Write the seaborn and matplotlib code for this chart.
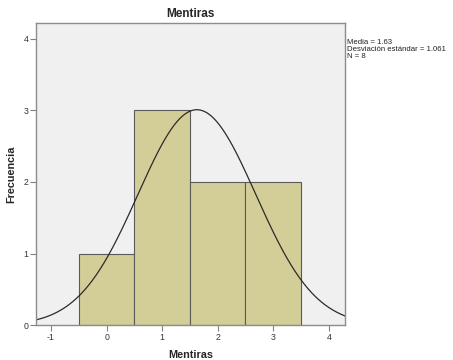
import numpy as np
from decimal import Decimal, ROUND_HALF_UP
import matplotlib
matplotlib.use("Agg")
import matplotlib.pyplot as plt
import seaborn as sns

# Observed values of the variable
mentiras = [0, 1, 1, 1, 2, 2, 3, 3]
bin_edges = [-0.5, 0.5, 1.5, 2.5, 3.5]
x_ticks = [-1, 0, 1, 2, 3, 4]
y_ticks = [0, 1, 2, 3, 4]

sns.set_theme(style="white")
plt.rcParams["font.family"] = ["Liberation Sans", "DejaVu Sans"]

fig = plt.figure(figsize=(4.53, 3.60), dpi=100)
ax = fig.add_axes([0.0795, 0.097, 0.682, 0.839])
ax.set_facecolor("#f0f0f0")

sns.histplot(x=mentiras, bins=bin_edges, stat="count", color="#d3ce98",
             edgecolor="#5a5a5a", linewidth=0.8, alpha=1.0, ax=ax)

# Normal curve fitted to the data, scaled to counts (bin width 1)
n = len(mentiras)
mean = float(np.mean(mentiras))
sd = float(np.std(mentiras, ddof=1))
xs = np.linspace(-1.27, 4.29, 300)
ys = n * np.exp(-0.5 * ((xs - mean) / sd) ** 2) / (sd * np.sqrt(2 * np.pi))
sns.lineplot(x=xs, y=ys, color="#2b2b2b", linewidth=0.9, ax=ax)

ax.set_xlim(-1.27, 4.29)
ax.set_ylim(0, 4.22)
ax.set_xticks(x_ticks)
ax.set_yticks(y_ticks)
ax.set_xticklabels([str(t) for t in x_ticks], fontsize=6.3, color="#333333")
ax.set_yticklabels([str(t) for t in y_ticks], fontsize=6.3, color="#333333")
ax.tick_params(axis="both", which="both", direction="out", length=4,
               width=0.8, color="#808080", pad=1.5, bottom=True, left=True)
for s in ax.spines.values():
    s.set_color("#8c8c8c")
    s.set_linewidth(1.0)

ax.set_title("Mentiras", fontsize=8.5, fontweight="bold", pad=4)
ax.set_xlabel("Mentiras", fontsize=7.8, fontweight="bold", labelpad=6)
ax.set_ylabel("Frecuencia", fontsize=7.8, fontweight="bold", labelpad=5)


def half_up(v, digits):
    q = Decimal(1).scaleb(-digits)
    return str(Decimal(repr(v)).quantize(q, rounding=ROUND_HALF_UP))


stats_text = (f"Media = {half_up(mean, 2)}\n"
              f"Desviación estándar = {half_up(sd, 3)}\n"
              f"N = {n}")
fig.text(0.767, 0.893, stats_text, fontsize=5.6, color="#222222",
         va="top", ha="left", linespacing=1.0)

fig.savefig("out.png", dpi=100, facecolor="white")
